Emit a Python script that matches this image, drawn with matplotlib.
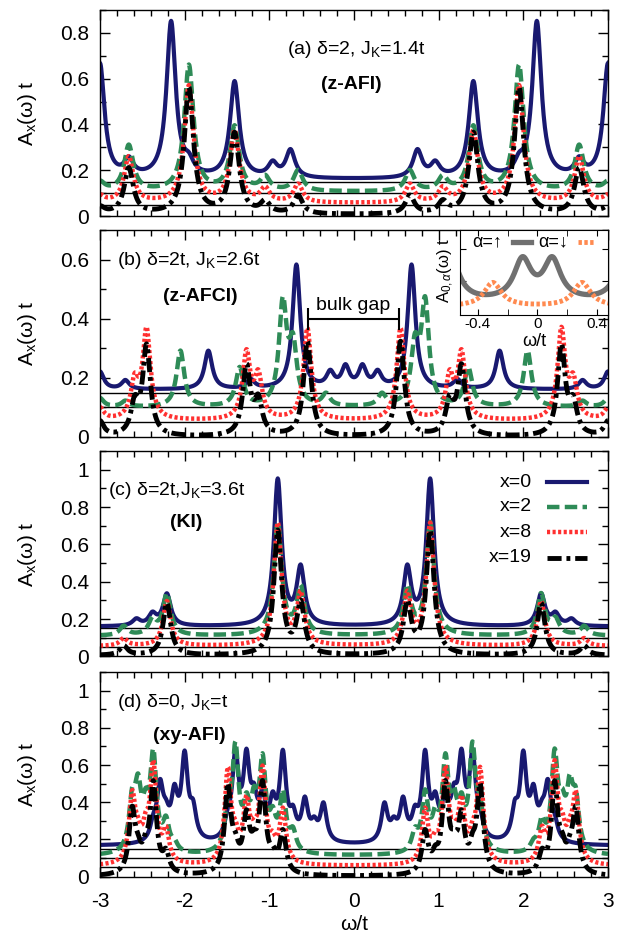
import numpy as np
import matplotlib
matplotlib.use('Agg')
import matplotlib.pyplot as plt
from matplotlib.ticker import MultipleLocator, FormatStrFormatter

plt.rcParams.update({'font.family': ['Liberation Sans', 'DejaVu Sans'],
                     'font.size': 14,
                     'axes.unicode_minus': False,
                     'mathtext.fontset': 'custom',
                     'mathtext.rm': 'Liberation Sans',
                     'mathtext.it': 'Liberation Sans:italic',
                     'mathtext.bf': 'Liberation Sans:bold'})

# Local spectral function A_x(w) at sites x=0, 2, 8, 19 (curves are offset).
# Peaks are listed for w >= 0 and mirrored to w < 0 (particle-hole symmetric).
labels = ['x=0', 'x=2', 'x=8', 'x=19']

# (a) delta=2, J_K=1.4t  (z-AFI)
a_pos = [0.66, 0.75, 0.96, 1.05, 1.41, 1.95, 2.16, 2.66, 3.00]
a_x0 = [0.00, 0.12, 0.06, 0.00, 0.42, 0.05, 0.68, 0.07, 0.50]
a_x2 = [0.09, 0.00, 0.00, 0.06, 0.28, 0.55, 0.00, 0.20, 0.04]
a_x8 = [0.08, 0.00, 0.00, 0.06, 0.31, 0.51, 0.00, 0.20, 0.03]
a_x19 = [0.08, 0.00, 0.00, 0.05, 0.35, 0.55, 0.00, 0.20, 0.03]
a_base = [0.16, 0.105, 0.055, 0.005]

# (b) delta=2t, J_K=2.6t  (z-AFCI)
b_pos = [0.10, 0.28, 0.33, 0.55, 0.68, 0.72, 0.84, 1.13, 1.22, 1.27, 1.35, 1.72, 2.05, 2.45, 2.59, 2.70, 3.00]
b_x0 = [0.07, 0.05, 0.00, 0.00, 0.42, 0.00, 0.00, 0.00, 0.03, 0.00, 0.00, 0.13, 0.00, 0.00, 0.00, 0.03, 0.06]
b_x2 = [0.00, 0.00, 0.04, 0.00, 0.00, 0.19, 0.34, 0.00, 0.00, 0.00, 0.13, 0.00, 0.19, 0.00, 0.00, 0.02, 0.03]
b_x8 = [0.00, 0.00, 0.00, 0.31, 0.00, 0.00, 0.00, 0.14, 0.00, 0.22, 0.00, 0.00, 0.00, 0.30, 0.12, 0.00, 0.04]
b_x19 = [0.00, 0.00, 0.00, 0.32, 0.00, 0.00, 0.00, 0.11, 0.00, 0.23, 0.00, 0.00, 0.00, 0.30, 0.10, 0.00, 0.05]
b_base = [0.16, 0.10, 0.055, 0.0]

# (c) delta=2t, J_K=3.6t  (KI)
c_pos = [0.63, 0.90, 2.21, 2.38, 2.57, 2.72]
c_x0 = [0.30, 0.78, 0.17, 0.06, 0.035, 0.00]
c_x2 = [0.25, 0.60, 0.22, 0.08, 0.00, 0.05]
c_x8 = [0.27, 0.65, 0.24, 0.00, 0.00, 0.04]
c_x19 = [0.27, 0.66, 0.28, 0.00, 0.00, 0.05]
c_base = [0.16, 0.11, 0.055, 0.005]

# (d) delta=0, J_K=t  (xy-AFI)
d_pos = [0.36, 0.47, 0.58, 0.72, 0.84, 0.96, 1.08, 1.18, 1.27, 1.40, 1.49,
         1.90, 2.00, 2.12, 2.22, 2.29, 2.37, 2.46, 2.55, 2.62]
d_x0 = [0.20, 0.08, 0.21, 0.12, 0.45, 0.18, 0.20, 0.18, 0.41, 0.44, 0.08,
        0.15, 0.44, 0.23, 0.10, 0.28, 0.08, 0.00, 0.00, 0.00]
d_x2 = [0.00, 0.00, 0.00, 0.10, 0.30, 0.15, 0.46, 0.22, 0.20, 0.53, 0.20,
        0.00, 0.00, 0.04, 0.15, 0.00, 0.50, 0.18, 0.30, 0.25]
d_x8 = [0.00, 0.00, 0.00, 0.00, 0.28, 0.08, 0.48, 0.10, 0.30, 0.10, 0.49,
        0.00, 0.00, 0.00, 0.16, 0.00, 0.51, 0.14, 0.10, 0.35]
d_x19 = [0.00, 0.00, 0.00, 0.00, 0.22, 0.07, 0.46, 0.10, 0.28, 0.10, 0.46,
         0.00, 0.00, 0.00, 0.10, 0.00, 0.47, 0.10, 0.08, 0.33]
d_base = [0.165, 0.11, 0.055, 0.0]

# inset of (b): A_{0,alpha}(w) for spin up / down
inset_pos = [0.10, 0.30, 0.58]
inset_up = [0.47, 0.00, 0.50]
inset_dn = [0.00, 0.28, 0.00]
inset_base = [0.15, 0.10]

bulk_gap = [-0.54, 0.53]
bulk_gap_level = 0.40

omega = np.linspace(-3, 3, 1201)
omega_in = np.linspace(-0.6, 0.6, 481)

colors = ['#191970', '#2e8b57', '#ff3030', 'black']
line_kw = [dict(lw=3.0),
           dict(lw=3.2, dashes=(2.8, 1.2)),
           dict(lw=3.2, dashes=(0.7, 0.55)),
           dict(lw=3.5, dashes=(2.9, 1.0, 0.8, 1.0))]


def spectrum(w, pos, amp, base, width):
    y = np.full_like(w, base)
    for p, a in zip(pos, amp):
        for s in (p, -p):
            y += a * width**2 / ((w - s)**2 + width**2)
    return y


def format_panel(ax, ymax, bottom_labels=False):
    ax.set_xlim(-3, 3)
    ax.set_ylim(0, ymax)
    ax.xaxis.set_major_locator(MultipleLocator(1))
    ax.xaxis.set_minor_locator(MultipleLocator(0.2))
    ax.yaxis.set_major_locator(MultipleLocator(0.2))
    ax.yaxis.set_minor_locator(MultipleLocator(0.1))
    ax.yaxis.set_major_formatter(FormatStrFormatter('%g'))
    ax.tick_params(which='both', direction='in', top=True, right=True, width=1)
    ax.tick_params(which='major', length=7, labelsize=15)
    ax.tick_params(which='minor', length=4)
    ax.tick_params(axis='y', pad=8)
    ax.tick_params(axis='x', pad=11, labelbottom=bottom_labels)
    ax.set_ylabel(r'A$_{\rm x}$(ω) t', fontsize=15)
    ax.yaxis.set_label_coords(-0.12, 0.5)
    for sp in ax.spines.values():
        sp.set_linewidth(1.0)


fig = plt.figure(figsize=(6.28, 9.42), dpi=100)
rects = [[0.1592, 0.7707, 0.8089, 0.2187],
         [0.1592, 0.5361, 0.8089, 0.2197],
         [0.1592, 0.3031, 0.8089, 0.2181],
         [0.1592, 0.0694, 0.8089, 0.2172]]
axs = [fig.add_axes(r) for r in rects]
offsets = [0.15, 0.10, 0.05]

panels = [(a_pos, [a_x0, a_x2, a_x8, a_x19], a_base, 0.065, 0.9),
          (b_pos, [b_x0, b_x2, b_x8, b_x19], b_base, 0.055, 0.7),
          (c_pos, [c_x0, c_x2, c_x8, c_x19], c_base, 0.055, 1.1),
          (d_pos, [d_x0, d_x2, d_x8, d_x19], d_base, 0.045, 1.1)]

for i, (ax, (pos, amps, bases, width, ymax)) in enumerate(zip(axs, panels)):
    for off in offsets:
        ax.axhline(off, color='black', lw=1.0, zorder=1)
    for amp, base, col, kw, lab in zip(amps, bases, colors, line_kw, labels):
        ax.plot(omega, spectrum(omega, pos, amp, base, width), color=col,
                label=lab, zorder=2, **kw)
    format_panel(ax, ymax, bottom_labels=(i == 3))

axs[3].set_xlabel('ω/t', fontsize=15, labelpad=3)

# panel captions
axs[0].text(0.504, 0.81, r'(a) δ=2, J$_{\rm K}$=1.4t', transform=axs[0].transAxes,
            ha='center', va='center', fontsize=14)
axs[0].text(0.495, 0.636, '(z-AFI)', transform=axs[0].transAxes,
            ha='center', va='center', fontsize=14, fontweight='bold')
axs[1].text(0.033, 0.855, r'(b) δ=2t, J$_{\rm K}$=2.6t', transform=axs[1].transAxes,
            ha='left', va='center', fontsize=14)
axs[1].text(0.198, 0.678, '(z-AFCI)', transform=axs[1].transAxes,
            ha='center', va='center', fontsize=14, fontweight='bold')
axs[2].text(0.016, 0.809, r'(c) δ=2t,J$_{\rm K}$=3.6t', transform=axs[2].transAxes,
            ha='left', va='center', fontsize=14)
axs[2].text(0.169, 0.654, '(KI)', transform=axs[2].transAxes,
            ha='center', va='center', fontsize=14, fontweight='bold')
axs[3].text(0.033, 0.853, r'(d) δ=0, J$_{\rm K}$=t', transform=axs[3].transAxes,
            ha='left', va='center', fontsize=14)
axs[3].text(0.175, 0.69, '(xy-AFI)', transform=axs[3].transAxes,
            ha='center', va='center', fontsize=14, fontweight='bold')

# bulk gap marker in (b)
gap_mid = 0.5 * (bulk_gap[0] + bulk_gap[1])
gap_half = 0.5 * (bulk_gap[1] - bulk_gap[0])
axs[1].errorbar(gap_mid, bulk_gap_level, xerr=gap_half, fmt='none', ecolor='black',
                elinewidth=1.5, capsize=8, capthick=1.5, zorder=3)
axs[1].text(gap_mid, bulk_gap_level + 0.015, 'bulk gap', ha='center', va='bottom',
            fontsize=14)

# legend in (c), gnuplot style: right-aligned keys followed by line samples
lg_rows = [0.848, 0.729, 0.604, 0.480]
for lab, col, kw, yy in zip(labels, colors, line_kw, lg_rows):
    axs[2].text(0.850, yy, lab, transform=axs[2].transAxes, ha='right', va='center',
                fontsize=14)
    axs[2].plot([0.880, 0.959], [yy, yy], transform=axs[2].transAxes, color=col,
                clip_on=False, **kw)

# inset in (b)
ax_in = fig.add_axes([0.7325, 0.6656, 0.2357, 0.0902])
ax_in.plot(omega_in, spectrum(omega_in, inset_pos, inset_up, inset_base[0], 0.07),
           color='#707070', lw=3.8)
ax_in.plot(omega_in, spectrum(omega_in, inset_pos, inset_dn, inset_base[1], 0.07),
           color='#ff8a50', lw=3.5, dashes=(0.7, 0.5))
ax_in.set_xlim(-0.52, 0.475)
ax_in.set_ylim(0, 1)
ax_in.xaxis.set_major_locator(MultipleLocator(0.4))
ax_in.xaxis.set_minor_locator(MultipleLocator(0.2))
ax_in.xaxis.set_major_formatter(FormatStrFormatter('%g'))
ax_in.set_yticks([0.4, 0.78])
ax_in.tick_params(which='both', direction='in', top=True, right=True, labelleft=False,
                  labelsize=11, pad=1.5, length=4)
ax_in.set_xlabel('ω/t', fontsize=13)
ax_in.xaxis.set_label_coords(0.5, -0.21)
ax_in.set_ylabel(r'A$_{0,\alpha}$(ω) t', fontsize=12)
ax_in.yaxis.set_label_coords(-0.03, 0.53)
ax_in.text(0.08, 0.86, 'α=↑', transform=ax_in.transAxes, ha='left', va='center', fontsize=13)
ax_in.plot([0.36, 0.48], [0.86, 0.86], transform=ax_in.transAxes, color='#707070', lw=3.8)
ax_in.text(0.53, 0.86, 'α=↓', transform=ax_in.transAxes, ha='left', va='center', fontsize=13)
ax_in.plot([0.80, 0.913], [0.86, 0.86], transform=ax_in.transAxes, color='#ff8a50',
           lw=3.5, dashes=(0.7, 0.5))

fig.savefig('out.png', dpi=100)
